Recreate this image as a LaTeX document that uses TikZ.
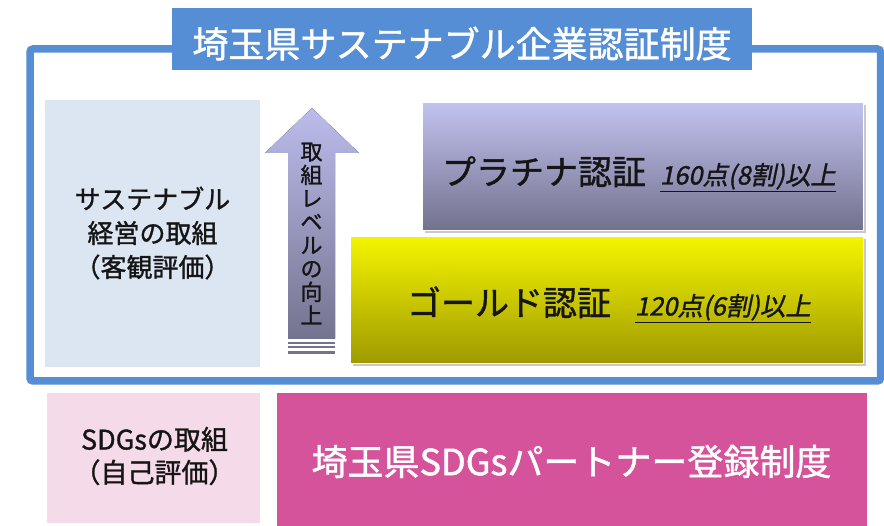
\documentclass[tikz,border=0pt]{standalone}
\usepackage{fontspec}
\usepackage{graphicx}
\setmainfont[FakeBold=1.2]{Noto Sans CJK JP}
\newfontfamily\jpit[FakeSlant=0.2,FakeBold=1.2]{Noto Sans CJK JP}
\usetikzlibrary{shadows}
\definecolor{frameblue}{HTML}{558ED5}
\definecolor{leftblue}{HTML}{DCE6F2}
\definecolor{arrowtop}{HTML}{BCBCEC}
\definecolor{arrowbot}{HTML}{74738F}
\definecolor{plattop}{HTML}{C2C2F0}
\definecolor{platbot}{HTML}{72718D}
\definecolor{goldtop}{HTML}{F4F400}
\definecolor{goldbot}{HTML}{9E9A00}
\definecolor{lightpink}{HTML}{F5DAEA}
\definecolor{magenta2}{HTML}{D5539B}
\definecolor{textdark}{HTML}{151515}
\begin{document}
\begin{tikzpicture}[x=1pt,y=-1pt,
  box/.style={rectangle, inner sep=0pt, outer sep=0pt, anchor=north west},
  certbox/.style={box, draw=white, line width=1pt,
    drop shadow={shadow xshift=2.5pt, shadow yshift=-2.5pt, opacity=0.35, fill=black!60}},
  lbl/.style={inner sep=0pt, outer sep=0pt, text=textdark},
  big/.style={lbl, font=\fontsize{34}{40}\selectfont},
  score/.style={lbl, font=\jpit\fontsize{25.5}{28}\selectfont},
  side/.style={lbl, align=center, font=\fontsize{26}{34}\selectfont}]
\useasboundingbox (0,0) rectangle (884,526);
\fill[white] (0,0) rectangle (884,526);

% outer frame
\node[box, draw=frameblue, line width=7.5pt, rounded corners=3pt,
  minimum width=850.5pt, minimum height=332pt] (frame) at (30,49) {};

% title
\node[box, fill=frameblue, minimum width=580pt, minimum height=62pt] (titlebox) at (172,8) {};
\node[lbl, text=white, anchor=base, font=\fontsize{36}{40}\selectfont] (title) at (462,57.5)
  {埼玉県サステナブル企業認証制度};

% left box
\node[box, fill=leftblue, minimum width=215pt, minimum height=267pt] (leftbox) at (45,100) {};
\node[side] (lefttext) at (152.5,233) {サステナブル\\経営の取組\\（客観評価）};

% arrow
\fill[top color=arrowtop, bottom color=arrowbot]
  (312,108) -- (359,153) -- (335,153) -- (335,339) -- (288,339) -- (288,153) -- (265,153) -- cycle;
\fill[arrowbot] (288,342) rectangle (335,344.5);
\fill[arrowbot] (288,346) rectangle (335,348.5);
\fill[arrowbot] (288,351.5) rectangle (335,354);
\node[lbl, align=center, font=\fontsize{22}{23.4}\selectfont] (arrowtext) at (311.5,233.5)
  {取\\組\\レ\\ベ\\ル\\の\\向\\上};

% platinum
\node[certbox, top color=plattop, bottom color=platbot,
  minimum width=441pt, minimum height=128pt] (plat) at (422,103) {};
\node[big, anchor=base west] (plattext) at (442,184.5) {プラチナ認証};
\node[score, anchor=base west] (platscore) at (660,184.5) {\underline{160点(8割)以上}};

% gold
\node[certbox, top color=goldtop, bottom color=goldbot,
  minimum width=513pt, minimum height=127pt] (gold) at (350,237) {};
\node[big, anchor=base west] (goldtext) at (407,315.5) {ゴールド認証};
\node[score, anchor=base west] (goldscore) at (635,315.5) {\underline{120点(6割)以上}};

% bottom boxes
\node[box, fill=lightpink, minimum width=213pt, minimum height=130pt] (sdgbox) at (47,393) {};
\node[side, font=\fontsize{27}{33}\selectfont] (sdgtext) at (154.5,456) {SDGsの取組\\（自己評価）};
\node[box, fill=magenta2, minimum width=590pt, minimum height=133pt] (partner) at (277,393) {};
\node[lbl, text=white, font=\fontsize{36}{40}\selectfont] (partnertext) at (571.5,461.5)
  {埼玉県SDGsパートナー登録制度};
\end{tikzpicture}
\end{document}
